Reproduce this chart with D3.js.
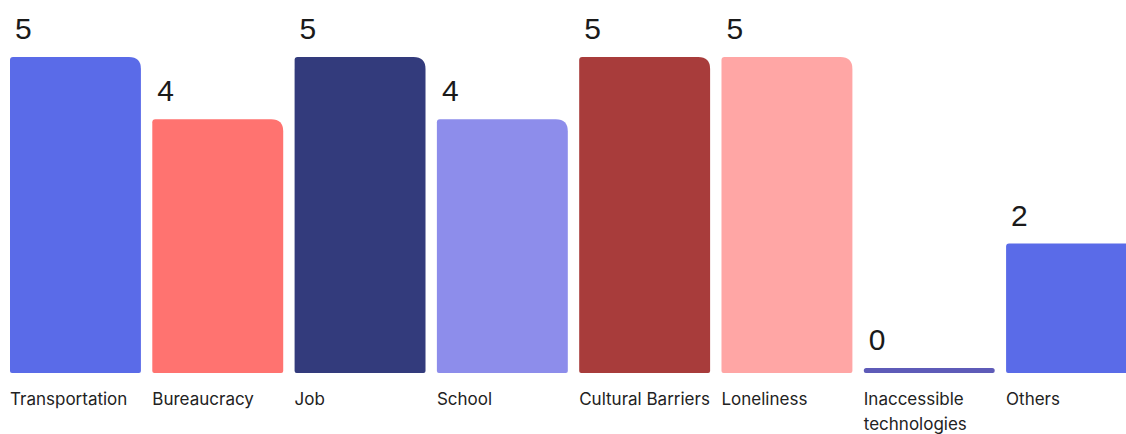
<!DOCTYPE html>
<html>
<head>
<meta charset="utf-8">
<script src="https://cdn.jsdelivr.net/npm/d3@7"></script>
<style>
  body { margin: 0; background: #fff; overflow: hidden; }
  svg { display: block; }
</style>
</head>
<body>
<div id="chart"></div>
<script>
const w = 1126,
      h = 434;

const categories = ['Transportation', 'Bureaucracy', 'Job', 'School', 'Cultural Barriers', 'Loneliness', 'Inaccessible technologies', 'Others'];
const values = [5, 4, 5, 4, 5, 5, 0, 2];
const colors = ['#5a6be8', '#ff7370', '#333b7c', '#8d8deb', '#a83c3b', '#ffa6a5', '#5e5bb8', '#5a6be8'];

const baseY = 373;

const svg = d3.select('#chart').append('svg')
    .attr('width', w)
    .attr('height', h);

const x = d3.scaleBand()
    .domain(categories)
    .range([10, 1137])
    .paddingInner(0.08)
    .paddingOuter(0);

// zero still gets a thin sliver, so the scale stops 5px above the baseline
const y = d3.scaleLinear()
    .domain([0, 5])
    .range([baseY - 5, 57]);

// top-left corner a little round, top-right much rounder
const barPath = (x0, y0, bw, bh) => {
    let rtl = Math.min(3, bh / 2),
        rtr = Math.min(12, bh / 2),
        rb = Math.min(2, bh / 2);
    return `M${x0},${y0 + rtl}` +
        `Q${x0},${y0} ${x0 + rtl},${y0}` +
        `H${x0 + bw - rtr}` +
        `Q${x0 + bw},${y0} ${x0 + bw},${y0 + rtr}` +
        `V${y0 + bh - rb}` +
        `Q${x0 + bw},${y0 + bh} ${x0 + bw - rb},${y0 + bh}` +
        `H${x0 + rb}` +
        `Q${x0},${y0 + bh} ${x0},${y0 + bh - rb}Z`;
};

const data = categories.map((c, i) => ({cat: c, value: values[i], color: colors[i]}));

svg.selectAll('path.bar')
    .data(data)
    .enter()
    .append('path')
    .attr('class', 'bar')
    .attr('fill', d => d.color)
    .attr('d', d => barPath(x(d.cat), y(d.value), x.bandwidth(), baseY - y(d.value)));

svg.selectAll('text.val')
    .data(data)
    .enter()
    .append('text')
    .attr('class', 'val')
    .attr('x', d => x(d.cat) + 5)
    .attr('y', d => y(d.value) - 18)
    .attr('font-family', 'Liberation Sans, Arial, sans-serif')
    .attr('font-size', 30)
    .attr('fill', '#1a1a1a')
    .text(d => d.value);

// category labels, wrapped to the bar width
const labels = svg.selectAll('text.cat')
    .data(data)
    .enter()
    .append('text')
    .attr('class', 'cat')
    .attr('x', d => x(d.cat))
    .attr('y', 405)
    .attr('font-family', 'Inter, sans-serif')
    .attr('font-size', 17)
    .attr('fill', '#222');

labels.each(function(d) {
    const t = d3.select(this);
    const words = d.cat.split(' ');
    let line = [],
        tspan = t.append('tspan').attr('x', x(d.cat)).attr('dy', 0);
    words.forEach(word => {
        line.push(word);
        tspan.text(line.join(' '));
        if (tspan.node().getComputedTextLength() > x.bandwidth() && line.length > 1) {
            line.pop();
            tspan.text(line.join(' '));
            line = [word];
            tspan = t.append('tspan').attr('x', x(d.cat)).attr('dy', 25).text(word);
        }
    });
});
</script>
</body>
</html>
